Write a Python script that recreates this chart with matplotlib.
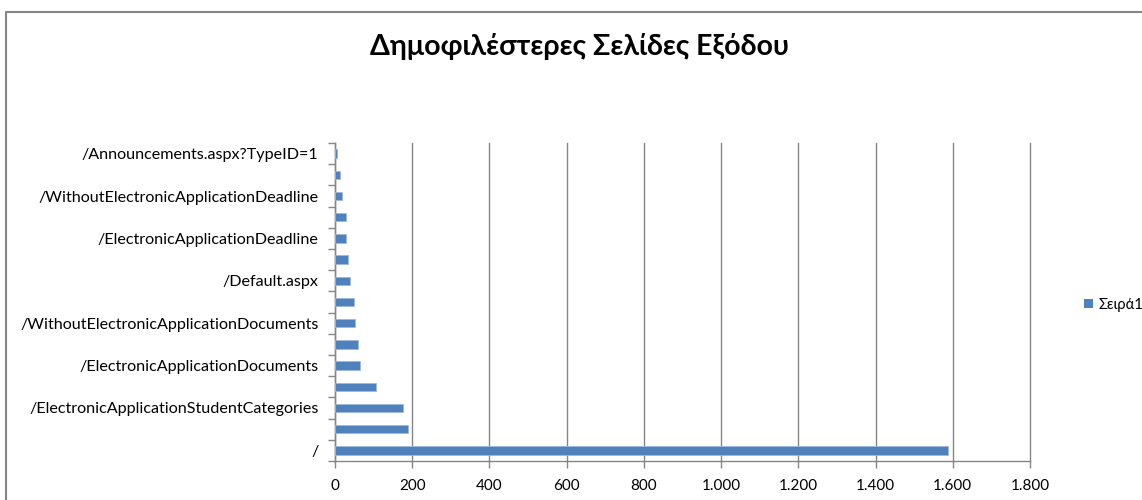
import matplotlib.pyplot as plt
from matplotlib.lines import Line2D
from matplotlib.patches import Patch
import numpy as np

# category labels, bottom to top (Excel only shows every other one)
pages = ['/', '', '/ElectronicApplicationStudentCategories', '',
         '/ElectronicApplicationDocuments', '', '/WithoutElectronicApplicationDocuments', '',
         '/Default.aspx', '', '/ElectronicApplicationDeadline', '',
         '/WithoutElectronicApplicationDeadline', '', '/Announcements.aspx?TypeID=1']
visits = [1588, 189, 175, 107, 66, 60, 53, 49, 39, 33, 28, 28, 18, 12, 5]
series_name = 'Σειρά1'
title_text = 'Δημοφιλέστερες Σελίδες Εξόδου'
x_ticks = [0, 200, 400, 600, 800, 1000, 1200, 1400, 1600, 1800]
x_labels = ['0', '200', '400', '600', '800', '1.000', '1.200', '1.400', '1.600', '1.800']

plt.rcParams['font.family'] = ['Lato', 'Noto Sans', 'DejaVu Sans']

fig = plt.figure(figsize=(11.42, 5.0), dpi=100)
ax = fig.add_axes([335 / 1142, 1 - 461 / 500, 695 / 1142, 318 / 500])

y = np.arange(len(visits))
ax.barh(y, visits, height=0.4, color='#4F81BD', edgecolor='#9DB8DC', linewidth=0.6, zorder=3)

ax.set_xlim(0, 1800)
ax.set_ylim(-0.5, len(visits) - 0.5)
ax.set_xticks(x_ticks)
ax.set_xticklabels(x_labels, fontsize=11)
ax.set_yticks(y)
ax.set_yticklabels(pages, fontsize=11.6)
ax.tick_params(axis='y', length=0, pad=12)
ax.set_yticks(np.arange(-0.5, len(visits), 1), minor=True)
ax.tick_params(axis='y', which='minor', length=5, color='#868686', width=1)
ax.tick_params(axis='x', length=5, color='#868686', width=1, pad=8)

ax.grid(axis='x', color='#868686', linewidth=1, zorder=0)
for gl in ax.get_xgridlines():
    gl.set_clip_on(False)
for s in ['top', 'right']:
    ax.spines[s].set_visible(False)
for s in ['left', 'bottom']:
    ax.spines[s].set_color('#868686')
    ax.spines[s].set_linewidth(1)

fig.text(580 / 1142, 1 - 46 / 500, title_text, ha='center', va='center',
         fontsize=20.5, fontweight='bold')

# legend
fig.legend(handles=[Patch(facecolor='#4F81BD', label=series_name)], loc='center left',
           bbox_to_anchor=(1071 / 1142, 1 - 305 / 500), frameon=False, fontsize=10.5,
           handlelength=0.6, handleheight=0.6, handletextpad=0.4)

# chart border
fig.add_artist(Line2D([6 / 1142, 6 / 1142, 1.0], [0.0, 1 - 12 / 500, 1 - 12 / 500],
                      transform=fig.transFigure, color='#868686', linewidth=1.5))

fig.savefig('out.png', dpi=100)
